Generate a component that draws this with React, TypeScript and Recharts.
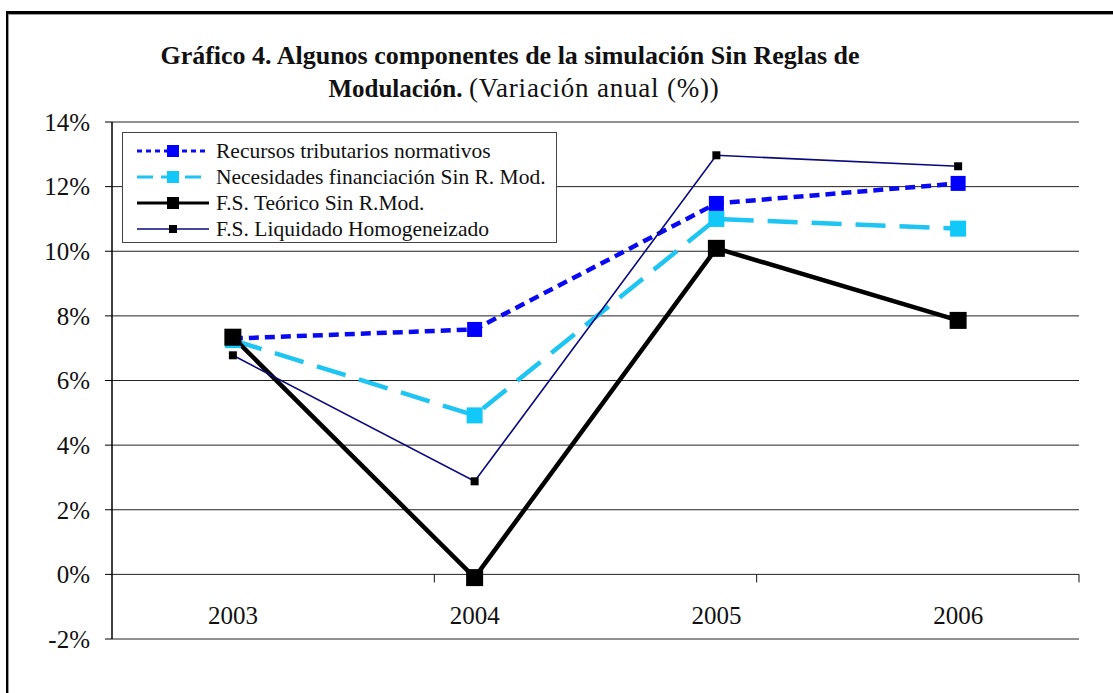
import React from 'react';
import { LineChart, Line, XAxis, YAxis, CartesianGrid, ReferenceLine } from 'recharts';

const years = ['2003', '2004', '2005', '2006'];
const recursos = [7.3, 7.58, 11.48, 12.1];
const necesidades = [7.25, 4.92, 11.0, 10.7];
const teorico = [7.34, -0.1, 10.09, 7.86];
const liquidado = [6.78, 2.88, 12.97, 12.63];
const yTicks = [-2, 0, 2, 4, 6, 8, 10, 12, 14];
const boundaryTicks = [1, 2, 3];

const seriesNames = [
  'Recursos tributarios normativos',
  'Necesidades financiación Sin R. Mod.',
  'F.S. Teórico Sin R.Mod.',
  'F.S. Liquidado Homogeneizado',
];

const data = years.map((y, i) => ({
  year: y,
  recursos: recursos[i],
  necesidades: necesidades[i],
  teorico: teorico[i],
  liquidado: liquidado[i],
}));

const FONT = '"Liberation Serif", "Times New Roman", Times, serif';

const W = 1113;
const H = 693;
const MARGIN = { top: 122, right: 34, bottom: 0, left: 52 };
const YAXIS_W = 60;
const XAXIS_H = 54;
const PLOT_W = W - MARGIN.left - MARGIN.right - YAXIS_W;
const CAT_PAD = PLOT_W / (years.length * 2);

const series = [
  { key: 'recursos', name: seriesNames[0], color: '#0a0af0', width: 4.5, dash: '10 6', dot: 15, dotColor: '#0000ff' },
  { key: 'necesidades', name: seriesNames[1], color: '#1ec4f2', width: 4.5, dash: '30 14', dot: 16, dotColor: '#12c8f8' },
  { key: 'teorico', name: seriesNames[2], color: '#000000', width: 4.5, dash: undefined, dot: 17, dotColor: '#000000' },
  { key: 'liquidado', name: seriesNames[3], color: '#0a0a7a', width: 1.6, dash: undefined, dot: 8, dotColor: '#000000' },
];

const makeDot = (size: number, fill: string) => (props: any) => {
  const { cx, cy, index } = props;
  if (cx == null || cy == null) return <g key={index} />;
  return <rect key={index} x={cx - size / 2} y={cy - size / 2} width={size} height={size} fill={fill} />;
};

const XTick = (props: any) => {
  const { x, y, payload } = props;
  return (
    <text x={x} y={y - 24} dy="0.35em" textAnchor="middle" style={{ fontFamily: FONT }} fontSize={25} fill="#111">
      {payload.value}
    </text>
  );
};

const YTick = (props: any) => {
  const { x, y, payload } = props;
  return (
    <text x={x} y={y} dy="0.35em" textAnchor="end" style={{ fontFamily: FONT }} fontSize={25} fill="#111">
      {`${payload.value}%`}
    </text>
  );
};

const LegendSample = ({ s }: { s: any }) => (
  <svg width={74} height={20} style={{ display: 'block' }}>
    <line x1={1} y1={10} x2={73} y2={10} stroke={s.color} strokeWidth={Math.min(s.width, 3)} strokeDasharray={s.dash ? (s.key === 'recursos' ? '5 4' : '16 8') : undefined} />
    <rect x={37 - Math.min(s.dot, 12) / 2} y={10 - Math.min(s.dot, 12) / 2} width={Math.min(s.dot, 12)} height={Math.min(s.dot, 12)} fill={s.dotColor} />
  </svg>
);

export default function App() {
  return (
    <div style={{ position: 'absolute', left: 0, top: 0, width: W, height: H, overflow: 'hidden', background: '#fff', fontFamily: FONT }}>
      <div style={{ position: 'absolute', left: 6, top: 11, width: W, height: 3, background: '#000' }} />
      <div style={{ position: 'absolute', left: 6, top: 14, width: W, height: 1, background: '#999' }} />
      <div style={{ position: 'absolute', left: 6, top: 11, width: 2, height: H, background: '#000' }} />
      <div style={{ position: 'absolute', left: 8, top: 14, width: 1, height: H, background: '#999' }} />

      <div style={{ position: 'absolute', left: 0, top: 0 }}>
        <LineChart width={W} height={H} data={data} margin={MARGIN}>
          <CartesianGrid vertical={false} stroke="#222" strokeWidth={1} />
          <XAxis
            xAxisId="cat"
            dataKey="year"
            height={XAXIS_H}
            axisLine={false}
            tickLine={false}
            tickSize={0}
            tickMargin={0}
            padding={{ left: CAT_PAD, right: CAT_PAD }}
            tick={<XTick />}
            interval={0}
          />
          <XAxis xAxisId="num" type="number" domain={[0, years.length]} allowDataOverflow hide />
          <YAxis
            type="number"
            domain={[-2, 14]}
            ticks={yTicks}
            width={YAXIS_W}
            tickSize={7}
            tickMargin={15}
            axisLine={{ stroke: '#000', strokeWidth: 1.5 }}
            tickLine={{ stroke: '#000', strokeWidth: 1 }}
            tick={<YTick />}
            interval={0}
          />
          <ReferenceLine xAxisId="num" x={years.length} stroke="#555" strokeWidth={1.5} />
          {boundaryTicks.map((b) => (
            <ReferenceLine
              key={b}
              xAxisId="num"
              segment={[{ x: b, y: 0 }, { x: b, y: -0.25 }]}
              stroke="#111"
              strokeWidth={1}
            />
          ))}
          {series.map((s) => (
            <Line
              key={s.key}
              xAxisId="cat"
              type="linear"
              dataKey={s.key}
              name={s.name}
              stroke={s.color}
              strokeWidth={s.width}
              strokeDasharray={s.dash}
              dot={makeDot(s.dot, s.dotColor)}
              activeDot={false}
              isAnimationActive={false}
            />
          ))}
        </LineChart>
      </div>

      <div
        style={{
          position: 'absolute',
          left: 122,
          top: 132,
          width: 435,
          height: 111,
          border: '1px solid #444',
          background: '#fff',
          boxSizing: 'border-box',
          paddingTop: 5,
        }}
      >
        {series.map((s) => (
          <div key={s.key} style={{ display: 'flex', alignItems: 'center', height: 26 }}>
            <div style={{ marginLeft: 13, width: 80 }}>
              <LegendSample s={s} />
            </div>
            <span style={{ fontFamily: FONT, fontSize: 21.5, color: '#111', whiteSpace: 'nowrap' }}>{s.name}</span>
          </div>
        ))}
      </div>

      <div
        style={{
          position: 'absolute',
          left: 0,
          width: 1020,
          top: 40,
          textAlign: 'center',
          fontFamily: FONT,
          fontSize: 26,
          lineHeight: '32px',
          color: '#111',
        }}
      >
        <div style={{ fontWeight: 'bold' }}>Gráfico 4. Algunos componentes de la simulación Sin Reglas de</div>
        <div style={{ paddingLeft: 28, whiteSpace: 'nowrap' }}>
          <span style={{ fontWeight: 'bold', fontSize: 25 }}>Modulación.</span>{' '}
          <span style={{ fontSize: 27, letterSpacing: 0.8 }}>(Variación anual (%))</span>
        </div>
      </div>
    </div>
  );
}
